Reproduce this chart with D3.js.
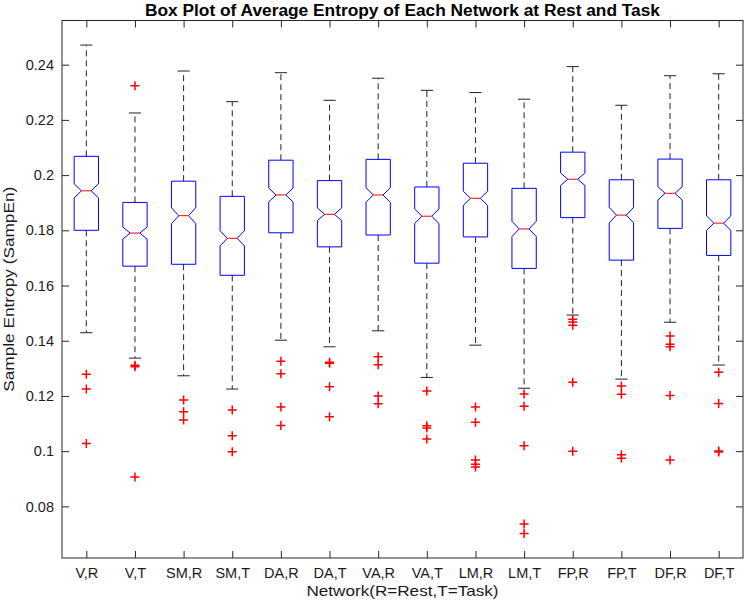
<!DOCTYPE html>
<html>
<head>
<meta charset="utf-8">
<script src="https://cdn.jsdelivr.net/npm/d3@7"></script>
<style>
  html, body { margin: 0; padding: 0; background: #fff; }
  svg { display: block; font-family: "Liberation Sans", Arial, Helvetica, sans-serif; }
</style>
</head>
<body>
<svg id="chart" width="750" height="612"></svg>
<script>
// ---- Data ----
const categories = ["V,R","V,T","SM,R","SM,T","DA,R","DA,T","VA,R","VA,T","LM,R","LM,T","FP,R","FP,T","DF,R","DF,T"];
const upperWhisker = [0.2471,0.2225,0.2377,0.2266,0.2371,0.2271,0.2351,0.2307,0.2299,0.2275,0.2393,0.2253,0.2360,0.2367];
const q3Values     = [0.2068,0.1901,0.1978,0.1923,0.2054,0.1980,0.2057,0.1957,0.2043,0.1952,0.2083,0.1983,0.2058,0.1983];
const medianValues = [0.1943,0.1790,0.1853,0.1771,0.1928,0.1858,0.1928,0.1851,0.1916,0.1805,0.1985,0.1855,0.1934,0.1826];
const q1Values     = [0.1800,0.1670,0.1677,0.1637,0.1791,0.1740,0.1783,0.1681,0.1776,0.1662,0.1846,0.1692,0.1807,0.1709];
const lowerWhisker = [0.1429,0.1337,0.1273,0.1225,0.1402,0.1378,0.1436,0.1267,0.1384,0.1228,0.1493,0.1261,0.1467,0.1312];
const outlierValues = [
  [0.1279,0.1225,0.1028],
  [0.2324,0.1311,0.1306,0.0906],
  [0.1185,0.1143,0.1113],
  [0.1149,0.1056,0.0998],
  [0.1326,0.1280,0.1160,0.1093],
  [0.1322,0.1318,0.1233,0.1125],
  [0.1342,0.1313,0.1200,0.1172],
  [0.1218,0.1092,0.1084,0.1044],
  [0.1160,0.1105,0.0968,0.0953,0.0943],
  [0.1207,0.1163,0.1020,0.0736,0.0702],
  [0.1478,0.1468,0.1456,0.1250,0.1000],
  [0.1236,0.1206,0.0987,0.0974],
  [0.1417,0.1387,0.1378,0.1202,0.0968],
  [0.1286,0.1173,0.1001,0.0997]
];
const sampleSize = 270; // used for notch: median ± 1.57*IQR/sqrt(n)
const yTickValues = [0.08,0.10,0.12,0.14,0.16,0.18,0.20,0.22,0.24];
const yDomain = [0.0613, 0.2560];

const title = "Box Plot of Average Entropy of Each Network at Rest and Task";
const xLabel = "Network(R=Rest,T=Task)";
const yLabel = "Sample Entropy (SampEn)";

// ---- Layout ----
const L = 62, R = 743, T = 20.5, B = 558;
const svg = d3.select("#chart");

const x = d3.scaleLinear().domain([0.5, categories.length + 0.5]).range([L, R]);
const y = d3.scaleLinear().domain(yDomain).range([B, T]);
const pos = categories.map((c, i) => i + 1);

const axisColor = "#262626";
const fmt = d => String(+d.toFixed(2));

// Axes
const gx = svg.append("g").attr("transform", `translate(0,${B})`)
  .call(d3.axisBottom(x).tickValues(pos).tickFormat((d, i) => categories[i]).tickSizeInner(-7).tickSizeOuter(0).tickPadding(10));
const gxTop = svg.append("g").attr("transform", `translate(0,${T})`)
  .call(d3.axisTop(x).tickValues(pos).tickFormat("").tickSizeInner(-7).tickSizeOuter(0));
const gy = svg.append("g").attr("transform", `translate(${L},0)`)
  .call(d3.axisLeft(y).tickValues(yTickValues).tickFormat(fmt).tickSizeInner(-7).tickSizeOuter(0).tickPadding(8));
const gyR = svg.append("g").attr("transform", `translate(${R},0)`)
  .call(d3.axisRight(y).tickValues(yTickValues).tickFormat("").tickSizeInner(-7).tickSizeOuter(0));

[gx, gxTop, gy, gyR].forEach(g => {
  g.select(".domain").remove();
  g.selectAll(".tick line").attr("stroke", axisColor).attr("stroke-width", 1);
  g.selectAll(".tick text").attr("fill", "#1a1a1a").style("font-size", "14.5px").style("font-family", "'Liberation Sans', Arial, sans-serif");
});

// Axis box
svg.append("rect").attr("x", L).attr("y", T).attr("width", R - L).attr("height", B - T)
  .attr("fill", "none").attr("stroke", axisColor).attr("stroke-width", 1);

// Boxes
const boxHalf = (x(1.25) - x(1));      // box width 0.5 units
const capHalf = (x(1.125) - x(1));     // cap width 0.25 units
const notchHalf = boxHalf * 0.4;

const groups = svg.append("g").selectAll("g.box").data(categories).join("g").attr("class", "box");

groups.each(function(c, i) {
  const g = d3.select(this);
  const cx = x(pos[i]);
  const iqr = q3Values[i] - q1Values[i];
  const nh = 1.57 * iqr / Math.sqrt(sampleSize);
  const nTop = medianValues[i] + nh, nBot = medianValues[i] - nh;

  // whiskers (dashed)
  g.append("line").attr("x1", cx).attr("x2", cx).attr("y1", y(q3Values[i])).attr("y2", y(upperWhisker[i]))
    .attr("stroke", "#222").attr("stroke-width", 1).attr("stroke-dasharray", "6,4");
  g.append("line").attr("x1", cx).attr("x2", cx).attr("y1", y(q1Values[i])).attr("y2", y(lowerWhisker[i]))
    .attr("stroke", "#222").attr("stroke-width", 1).attr("stroke-dasharray", "6,4");
  // caps
  [upperWhisker[i], lowerWhisker[i]].forEach(v => {
    g.append("line").attr("x1", cx - capHalf).attr("x2", cx + capHalf).attr("y1", y(v)).attr("y2", y(v))
      .attr("stroke", "#222").attr("stroke-width", 1);
  });

  // notched box
  const pts = [
    [cx - boxHalf, y(q3Values[i])],
    [cx + boxHalf, y(q3Values[i])],
    [cx + boxHalf, y(nTop)],
    [cx + notchHalf, y(medianValues[i])],
    [cx + boxHalf, y(nBot)],
    [cx + boxHalf, y(q1Values[i])],
    [cx - boxHalf, y(q1Values[i])],
    [cx - boxHalf, y(nBot)],
    [cx - notchHalf, y(medianValues[i])],
    [cx - boxHalf, y(nTop)]
  ];
  g.append("path").attr("d", d3.line()(pts) + "Z")
    .attr("fill", "none").attr("stroke", "#0000ff").attr("stroke-width", 1);

  // median
  g.append("line").attr("x1", cx - notchHalf).attr("x2", cx + notchHalf)
    .attr("y1", y(medianValues[i])).attr("y2", y(medianValues[i]))
    .attr("stroke", "#ff0000").attr("stroke-width", 1);

  // outliers
  const s = 4.5;
  outlierValues[i].forEach(v => {
    const py = y(v);
    g.append("path").attr("d", `M${cx - s},${py}H${cx + s}M${cx},${py - s}V${py + s}`)
      .attr("stroke", "#ff0000").attr("stroke-width", 1.5).attr("fill", "none");
  });
});

// Title and labels
svg.append("text").attr("x", (L + R) / 2).attr("y", 15.5).attr("text-anchor", "middle")
  .style("font-weight", "bold").style("font-size", "16px").attr("fill", "#000")
  .attr("textLength", 515).attr("lengthAdjust", "spacingAndGlyphs")
  .text(title);

svg.append("text").attr("x", (L + R) / 2).attr("y", 596).attr("text-anchor", "middle")
  .style("font-size", "15px").attr("fill", "#1a1a1a")
  .attr("textLength", 192).attr("lengthAdjust", "spacingAndGlyphs").text(xLabel);

svg.append("text").attr("transform", `translate(13.5,${(T + B) / 2}) rotate(-90)`).attr("text-anchor", "middle")
  .style("font-size", "15px").attr("fill", "#1a1a1a")
  .attr("textLength", 205).attr("lengthAdjust", "spacingAndGlyphs").text(yLabel);
</script>
</body>
</html>
